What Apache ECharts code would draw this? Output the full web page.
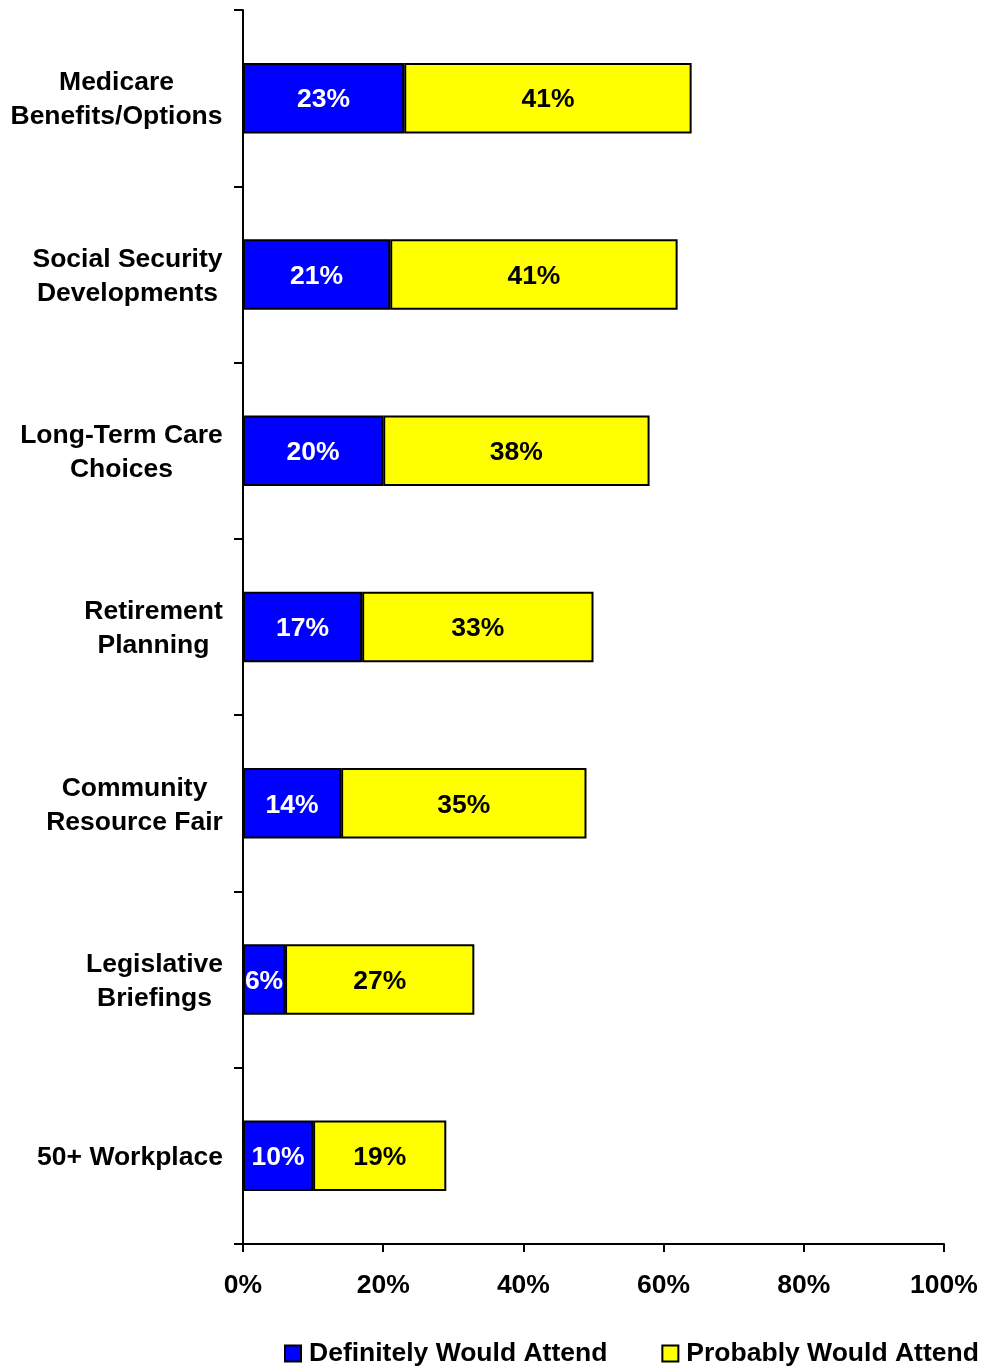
<!DOCTYPE html>
<html>
<head>
<meta charset="utf-8">
<script src="https://cdn.jsdelivr.net/npm/echarts@6/dist/echarts.min.js"></script>
<style>
  html, body { margin: 0; padding: 0; background: #fff; }
  #chart { width: 982px; height: 1367px; }
</style>
</head>
<body>
<div id="chart"></div>
<script>
// Topics (top to bottom), each label split into its display lines
const categories = [
  ['Medicare', 'Benefits/Options'],
  ['Social Security', 'Developments'],
  ['Long-Term Care', 'Choices'],
  ['Retirement', 'Planning'],
  ['Community', 'Resource Fair'],
  ['Legislative', 'Briefings'],
  ['50+ Workplace']
];
const definitely = [23, 21, 20, 17, 14, 6, 10];
const probably = [41, 41, 38, 33, 35, 27, 19];
const xTicks = [0, 20, 40, 60, 80, 100];
const seriesNames = ['Definitely Would Attend', 'Probably Would Attend'];

const FONT = 'Liberation Sans, Arial, Helvetica, sans-serif';
const FS = 26.5;

// Measure each label block so its lines can be centred within the block
const ctx = document.createElement('canvas').getContext('2d');
ctx.font = 'bold ' + FS + 'px ' + FONT;
const rich = {};
const catKeys = categories.map(function (lines, i) {
  const w = Math.max.apply(null, lines.map(function (l) { return ctx.measureText(l).width; }));
  rich['c' + i] = { width: Math.ceil(w), align: 'center', fontSize: FS, fontWeight: 'bold',
    fontFamily: FONT, color: '#000', lineHeight: 34 };
  return 'k' + i;
});

const chart = echarts.init(document.getElementById('chart'), null, { renderer: 'canvas' });

chart.setOption({
  animation: false,
  backgroundColor: '#fff',
  grid: { left: 243, right: 38, top: 10, bottom: 123, containLabel: false },
  legend: {
    left: 284, top: 1340, width: 698, padding: 0,
    itemWidth: 16, itemHeight: 16, itemGap: 54,
    icon: 'rect',
    textStyle: { fontSize: FS, fontWeight: 'bold', fontFamily: FONT, color: '#000', padding: [0, 0, 0, 3] },
    data: seriesNames
  },
  xAxis: {
    type: 'value', min: 0, max: 100, interval: 20,
    axisLine: { show: true, lineStyle: { color: '#000', width: 2 } },
    axisTick: { show: true, length: 8, lineStyle: { color: '#000', width: 2 } },
    splitLine: { show: false },
    axisLabel: {
      margin: 28, fontSize: FS, fontWeight: 'bold', fontFamily: FONT, color: '#000',
      formatter: function (v) { return xTicks.indexOf(v) >= 0 ? v + '%' : ''; }
    }
  },
  yAxis: {
    type: 'category', inverse: true,
    data: catKeys,
    axisLine: { show: true, lineStyle: { color: '#000', width: 2 } },
    axisTick: { show: true, length: 9, lineStyle: { color: '#000', width: 2 } },
    axisLabel: {
      margin: 20, align: 'right', padding: [4, 0, 0, 0],
      formatter: function (v) {
        const i = +v.slice(1);
        return categories[i].map(function (l) { return '{c' + i + '|' + l + '}'; }).join('\n');
      },
      rich: rich
    }
  },
  series: [
    {
      name: seriesNames[0], type: 'bar', stack: 'total', barWidth: '40%',
      data: definitely,
      itemStyle: { color: '#0000FF', borderColor: '#000', borderWidth: 2 },
      label: { show: true, position: 'inside', offset: [0, 2], formatter: '{c}%', color: '#fff',
        fontSize: FS, fontWeight: 'bold', fontFamily: FONT }
    },
    {
      name: seriesNames[1], type: 'bar', stack: 'total', barWidth: '40%',
      data: probably,
      itemStyle: { color: '#FFFF00', borderColor: '#000', borderWidth: 2 },
      label: { show: true, position: 'inside', offset: [0, 2], formatter: '{c}%', color: '#000',
        fontSize: FS, fontWeight: 'bold', fontFamily: FONT }
    }
  ]
});
</script>
</body>
</html>
